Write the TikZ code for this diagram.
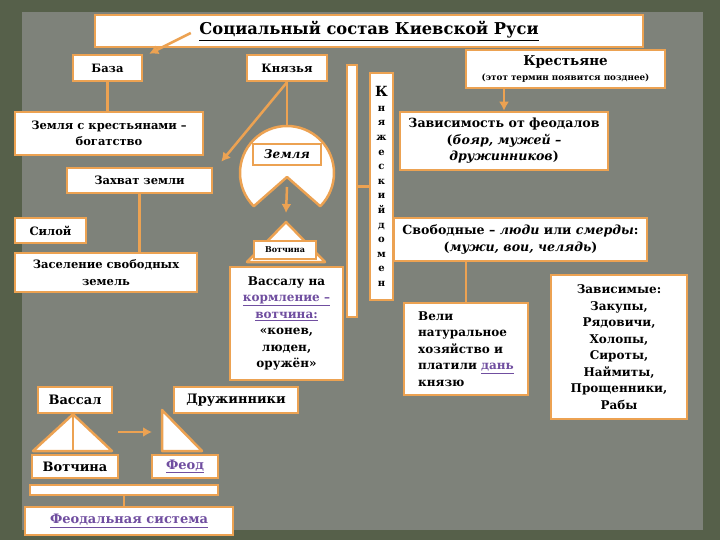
\documentclass[tikz,border=0pt]{standalone}
\usepackage{fontspec}
\setmainfont{DejaVu Serif}
\usetikzlibrary{calc,arrows.meta}

\definecolor{orangeb}{RGB}{236,162,82}
\definecolor{fond}{RGB}{86,96,74}
\definecolor{papier}{RGB}{126,130,122}
\definecolor{lien}{RGB}{112,78,160}
\newcommand{\hlien}[1]{\textcolor{lien}{\underline{#1}}}

\begin{document}
\begin{tikzpicture}[x=1pt,y=-1pt,
	boite/.style={draw=orangeb, line width=2.5pt, fill=white, rectangle, inner sep=1pt, align=center, font=\bfseries\fontsize{12}{16.5}\selectfont},
	gauche/.style={font=\bfseries\fontsize{11.5}{16.5}\selectfont},
	droite/.style={font=\bfseries\fontsize{12.6}{16.5}\selectfont},
	bas/.style={font=\bfseries\fontsize{13}{15}\selectfont},
	taille/.style 2 args={minimum width=#1, minimum height=#2},
	fleche/.style={-{Latex[length=9pt,width=10pt]}, draw=orangeb, line width=2.5pt},
	trait/.style={draw=orangeb, line width=2.5pt},
	forme/.style={draw=orangeb, line width=2.5pt, fill=white, line join=round}]
	\useasboundingbox (0,0) rectangle (720,540);
	\fill[fond] (0,0) rectangle (720,540);
	\fill[papier] (22,12) rectangle (703,530);

	% en-tete
	\node[boite, taille={548}{32}, font=\bfseries\fontsize{16.3}{18}\selectfont] (T) at (369,31)
	{\underline{Социальный состав Киевской Руси}};%

	% colonne de gauche
	\node[boite, gauche, taille={69}{26}] (B) at (107.5,68) {База};%
	\node[boite, gauche, taille={188}{43}] (ZK) at (109,133.5) {Земля с крестьянами –\\богатство};%
	\node[boite, gauche, taille={145}{25}] (ZZ) at (139.5,180.5) {Захват земли};%
	\node[boite, gauche, taille={71}{25}] (S) at (50.5,230.5) {Силой};%
	\node[boite, gauche, taille={182}{39}] (ZS) at (106,272.5) {Заселение свободных\\земель};%

	% colonne du milieu
	\node[boite, gauche, taille={80}{26}] (K) at (287,68) {Князья};%
	\node[circle, minimum size=94] (PM) at (287,173) {};
	\fill[forme] ($(PM.center)+(0,4)$) -- ($(PM.center)+(45:47)$)
		arc[start angle=45, end angle=-225, radius=47] -- cycle;
	\node[boite, taille={68}{21}, font=\bfseries\itshape\fontsize{12}{14}\selectfont] (Z) at (287,154.5) {Земля};%
	\coordinate (toit) at (286,222);
	\fill[forme] (toit) -- (325,262) -- (247,262) -- cycle;
	\node[boite, taille={62}{18}, font=\bfseries\fontsize{8}{10}\selectfont] (V) at (285,250) {Вотчина};%
	\node[boite, taille={113}{113}] (VN) at (286.5,323.5)
	{Вассалу на\\\hlien{кормление –}\\\hlien{вотчина:}\\«конев,\\люден,\\оружён»};%

	\node[draw=orangeb, line width=1.5pt, fill=white, minimum width=10, minimum height=252, inner sep=0] (BR) at (352,191) {};
	\node[boite, taille={23}{227}, inner sep=0, font=\bfseries\fontsize{10}{14.6}\selectfont] (KD) at (381.5,186.5)
	{{\fontsize{14}{14.6}\selectfont К}\\н\\я\\ж\\е\\с\\к\\и\\й\\д\\о\\м\\е\\н};%

	% colonne de droite
	\node[boite, taille={199}{38}] (KR) at (565.5,69)
	{{\fontsize{13.5}{15}\selectfont Крестьяне}\\[-1pt]{\fontsize{8.8}{10}\selectfont(этот термин появится позднее)}};%
	\node[boite, droite, taille={208}{58}] (ZF) at (504,141)
	{Зависимость от феодалов\\(\textit{бояр, мужей –}\\\textit{дружинников})};%
	\node[boite, droite, taille={253}{43}] (SV) at (520.5,239.5)
	{Свободные – \textit{люди} или \textit{смерды}:\\(\textit{мужи, вои, челядь})};%
	\node[boite, taille={124}{92}, align=left] (VL) at (466,349)
	{Вели\\натуральное\\хозяйство и\\платили \hlien{дань}\\князю};%
	\node[boite, taille={136}{144}] (ZV) at (619,347)
	{Зависимые:\\Закупы,\\Рядовичи,\\Холопы,\\Сироты,\\Наймиты,\\Прощенники,\\Рабы};%

	% en bas
	\node[boite, bas, taille={74}{26}] (VS) at (75,400) {Вассал};%
	\node[boite, bas, taille={124}{26}] (D) at (236,400) {Дружинники};%
	\fill[forme] (VS.south -| 73,0) -- (112,451) -- (33,451) -- cycle;
	\draw[trait] (VS.south -| 73,0) -- (73,451);
	\fill[forme] (162,410) -- (202,451) -- (162,451) -- cycle;
	\node[boite, bas, taille={86}{23}] (VT) at (75,466.5) {Вотчина};%
	\node[boite, bas, taille={66}{23}] (F) at (185,466.5) {\hlien{Феод}};%
	\node[draw=orangeb, line width=1.5pt, fill=white, minimum width=188, minimum height=10, inner sep=0] (BR2) at (124,490) {};
	\node[boite, bas, taille={208}{28}] (FS) at (129,521) {\hlien{Феодальная система}};%

	\draw[fleche] ($(T.west)+(97,2)$) -- ($(B.north east)+(6,0)$);
	\draw[trait] (B.south) -- (B.south |- ZK.north);
	\draw[fleche] (K.south) -- ($(ZZ.north east)+(8,-5)$);
	\draw[trait] (K.south) -- (K.south |- PM.north);
	\draw[trait] ($(ZZ.south west)+(6,0)$) -- ($(ZZ.south west)+(6,0)$ |- S.north);
	\draw[trait] (ZZ.south) -- (ZZ.south |- ZS.north);
	\draw[fleche] ($(PM.center)+(0,14)$) -- ($(toit)+(0,-9)$);
	\draw[trait] (BR.east |- KD.west) -- (KD.west);
	\draw[fleche] (KR.south -| ZF.north) -- (ZF.north);
	\draw[trait] ($(KR.south west)+(152,0)$) -- ($(KR.south west)+(152,0)$ |- SV.north);
	\draw[trait] ($(KR.south west)+(191,0)$) -- ($(KR.south west)+(191,0)$ |- ZV.north);
	\draw[trait] (SV.south -| VL.north) -- (VL.north);
	\draw[fleche] (118,432) -- (152,432);
	\draw[trait] (BR2.south) -- (BR2.south |- FS.north);
\end{tikzpicture}
\end{document}
